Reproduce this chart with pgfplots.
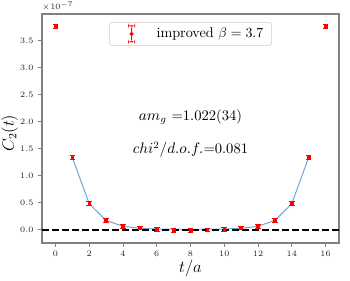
\documentclass[border=0pt]{standalone}
\usepackage{pgfplots}
\pgfplotsset{compat=1.18}
\definecolor{fitblue}{RGB}{110,162,212}
\definecolor{spine}{RGB}{128,128,128}
\pgfplotstableread{
t c e
0 3.765 0.035
1 1.336 0.035
2 0.48 0.035
3 0.17 0.035
4 0.06 0.035
5 0.035 0.035
6 0.01 0.035
7 -0.01 0.035
8 -0.012 0.035
9 -0.005 0.035
10 0.005 0.035
11 0.035 0.035
12 0.055 0.035
13 0.17 0.035
14 0.48 0.035
15 1.336 0.035
16 3.765 0.035
}\datatab
\pgfplotstableread{
t f
1 1.336
2 0.48
3 0.17
4 0.062
5 0.025
6 0.012
7 0.008
8 0.007
9 0.008
10 0.012
11 0.025
12 0.062
13 0.17
14 0.48
15 1.336
}\fittab
\begin{document}
\begin{tikzpicture}
\path[use as bounding box] (-30.2pt,-26.6pt) rectangle (221.7pt,175pt);
\begin{axis}[
  scale only axis, width=213.8pt, height=164.9pt,
  xmin=-0.8, xmax=16.8, ymin=-0.25, ymax=3.99,
  axis line style={spine, line width=1.1pt},
  xtick={0,2,...,16}, ytick={0,0.5,...,3.5},
  yticklabel style={/pgf/number format/.cd, fixed, fixed zerofill, precision=1},
  xtick pos=bottom, ytick pos=left,
  tick style={spine, line width=0.6pt},
  tick align=outside, major tick length=2.5pt,
  tick label style={font=\fontsize{6}{7}\selectfont, text=black!85},
  xlabel={$t/a$}, ylabel={$C_2(t)$},
  label style={font=\fontsize{11.5}{14}\selectfont},
  xlabel style={at={(axis description cs:0.5,-0.11)}, anchor=center},
  ylabel style={at={(axis description cs:-0.109,0.48)}, anchor=center},
  legend style={at={(0.5,0.965)}, anchor=north, draw=black!20, rounded corners=2pt,
    font=\fontsize{10.2}{12}\selectfont, inner xsep=4pt, inner ysep=2pt},
  legend cell align=left,
  legend image code/.code={
    \path[draw=none,fill=none] (0pt,0pt) -- (13pt,0pt);
    \fill[red,draw=none] (11.65pt,-5.8pt) rectangle (12.35pt,5.8pt);
    \fill[red,draw=none] (9.5pt,-6.15pt) rectangle (14.5pt,-5.45pt);
    \fill[red,draw=none] (9.5pt,5.45pt) rectangle (14.5pt,6.15pt);
    \fill[red,draw=none] (10.6pt,-1.4pt) rectangle (13.4pt,1.4pt);
    \path[draw=none,fill=none] (12pt,0pt) -- (28pt,0pt);
  },
]
\addplot[fitblue, line width=0.7pt, forget plot] table[x=t,y=f] {\fittab};
\addplot[only marks, mark=square*, mark size=1pt, red,
  error bars/.cd, y dir=both, y explicit,
  error bar style={line width=0.5pt, red},
  error mark options={rotate=90, mark size=2pt, line width=0.5pt, red}]
  table[x=t,y=c,y error=e] {\datatab};
\addlegendentry{improved $\beta=3.7$}
\addplot[black, line width=1.3pt, dash pattern=on 5pt off 2.2pt, forget plot] coordinates {(-0.8,0) (16.8,0)};
\node[font=\fontsize{10.5}{12}\selectfont] at (axis cs:8,2.09) {$am_g$ =1.022(34)};
\node[font=\fontsize{10.5}{12}\selectfont] at (axis cs:8,1.48) {$chi^2/d.o.f.$=0.081};
\end{axis}
\node[anchor=south west, inner sep=0pt, yshift=2pt, font=\fontsize{6}{7}\selectfont, text=black!85] at (0pt,164.9pt) {$\times10^{-7}$};
\end{tikzpicture}
\end{document}
